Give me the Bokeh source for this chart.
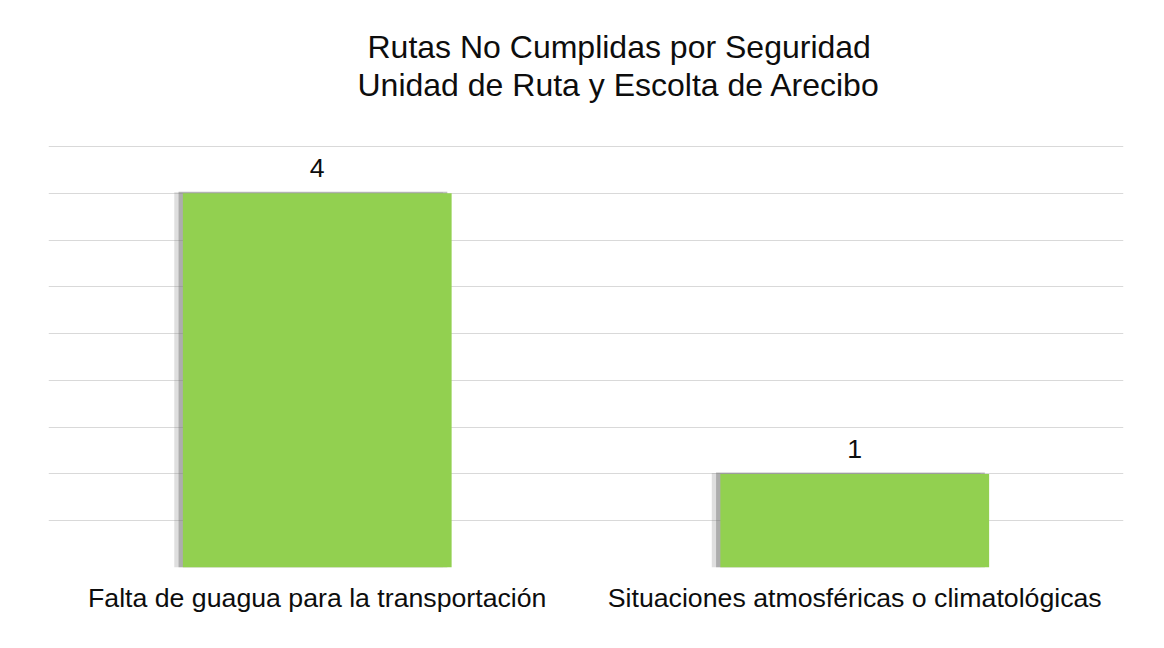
from bokeh.plotting import figure
from bokeh.models import ColumnDataSource, FixedTicker, LabelSet, Range1d, FactorRange, Title
from bokeh.core.properties import value
from bokeh.transform import dodge
from bokeh.embed import file_html
from bokeh.resources import INLINE

categories = ["Falta de guagua para la transportación",
              "Situaciones atmosféricas o climatológicas"]
values = [4, 1]
title_lines = ["Rutas No Cumplidas por Seguridad",
               "Unidad de Ruta y Escolta de Arecibo"]
grid_ticks = [0, 0.5, 1, 1.5, 2, 2.5, 3, 3.5, 4, 4.5]

FONT = "Liberation Sans"
TXT = "#0d0d0d"

# layout: frame spans from y=102 to y=567 px; top gridline (4.5) should sit at 146 px
FRAME_TOP, GRID_TOP, BASE = 102, 146, 567
y_end = grid_ticks[-1] * (BASE - FRAME_TOP) / (BASE - GRID_TOP)

source = ColumnDataSource(dict(cat=categories, value=values,
                               label=[str(v) for v in values]))

p = figure(width=1164, height=648, output_backend="svg", toolbar_location=None,
           x_range=FactorRange(*categories, range_padding=0),
           y_range=Range1d(0, y_end),
           min_border_left=48, min_border_right=41,
           min_border_top=FRAME_TOP, min_border_bottom=648 - BASE)
p.outline_line_color = None
p.background_fill_color = "white"
p.border_fill_color = "white"

# first title line (outer), second line added below it (closest to the plot)
p.title = Title(text=title_lines[0], align="left", offset=319, standoff=0,
                text_font=FONT, text_font_size="32px", text_font_style="normal",
                text_color=TXT)
p.add_layout(Title(text=title_lines[1], align="left", offset=309, standoff=0,
                   text_font=FONT, text_font_size="32px", text_font_style="normal",
                   text_color=TXT), "above")

p.yaxis.visible = False
p.xgrid.grid_line_color = None
p.ygrid.ticker = FixedTicker(ticks=grid_ticks)
p.ygrid.grid_line_color = "#d9d9d9"
p.ygrid.grid_line_width = 1

xa = p.xaxis[0]
xa.axis_line_color = None
xa.major_tick_line_color = None
xa.minor_tick_line_color = None
xa.major_label_text_font = FONT
xa.major_label_text_font_size = "26.7px"
xa.major_label_text_color = TXT
xa.major_label_standoff = 9

# soft shadow to the left of each bar
p.vbar(x=dodge("cat", -0.016, range=p.x_range), top=dodge("value", 0.01, range=p.y_range),
       width=0.5, source=source, fill_color="#808080", fill_alpha=0.25, line_color=None)
p.vbar(x=dodge("cat", -0.008, range=p.x_range), top=dodge("value", 0.015, range=p.y_range),
       width=0.5, source=source, fill_color="#707070", fill_alpha=0.45, line_color=None)
p.vbar(x="cat", top="value", width=0.5, source=source,
       fill_color="#92d050", line_color=None)

labels = LabelSet(x="cat", y="value", text="label", source=source,
                  text_align="center", text_baseline="alphabetic", y_offset=16,
                  text_font=value(FONT), text_font_size=value("26.7px"), text_color=TXT)
p.add_layout(labels)

open("out.html", "w").write(file_html(p, INLINE))
